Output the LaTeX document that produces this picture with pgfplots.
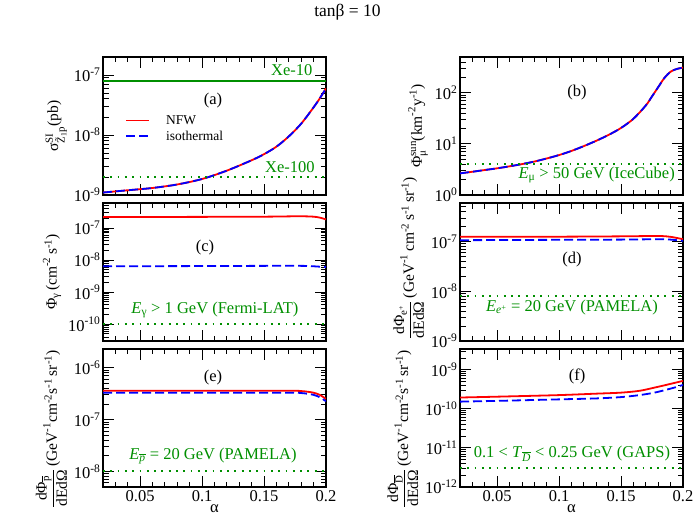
\documentclass[border=0pt]{standalone}
\usepackage{fontspec}
\setmainfont{Liberation Serif}
\usepackage{amsmath}
\usepackage{pgfplots}
\pgfplotsset{compat=1.18}

\definecolor{mygreen}{rgb}{0,0.56,0}
\newcommand{\T}[1]{\text{#1}}
\newcommand{\fs}{\fontsize{16.5}{19}\selectfont}
\newcommand{\fl}{\fontsize{15.5}{18}\selectfont}

\pgfplotsset{
  panel/.style={
    scale only axis, width=223pt, height=138pt,
    log basis y=10,
    xmin=0.02, xmax=0.2,
    xtick={0.05,0.1,0.15,0.2},
    minor xtick={0.03,0.04,0.06,0.07,0.08,0.09,0.11,0.12,0.13,0.14,0.16,0.17,0.18,0.19},
    yticklabel={\pgfmathparse{int(round(\tick))}10\textsuperscript{\pgfmathresult}},
    tick align=inside,
    major tick length=11pt, minor tick length=5.5pt,
    tick style={black, line width=0.9pt},
    axis line style={line width=1.2pt},
    tick label style={font=\fs},
    yticklabel style={xshift=1pt},
    label style={font=\fl},
    anchor=south west,
  },
  toprow/.style={xticklabels={,,,,}},
  bottomrow/.style={xticklabels={0.05,0.1,0.15,0.2}, xlabel={α},
    xlabel style={yshift=4pt, font=\fs}},
}
\tikzset{
  nfw/.style={red, line width=1.8pt, smooth},
  iso/.style={blue, line width=1.8pt, dash pattern=on 9pt off 4pt, smooth},
  lim/.style={mygreen, line width=1.9pt, dash pattern=on 1.8pt off 5.5pt},
  ann/.style={font=\fs, text=mygreen, inner sep=0pt},
}

\begin{document}
\begin{tikzpicture}
\useasboundingbox (0,0) rectangle (695pt,-522pt);
\node at (347.5pt,-12pt) {\fontsize{17.5}{20}\selectfont tanβ = 10};

% (a)
\begin{semilogyaxis}[panel, toprow, at={(103pt,-195pt)},
  ymin=1e-9, ymax=2e-7,
  ylabel={$\T{σ}^{\T{SI}}_{\T{\~{Z}}_{\T{1}}\T{p}}\T{(pb)}$},
  legend style={at={(0.099,0.482)}, anchor=west, draw=none, fill=none,
    font=\fontsize{13.5}{15}\selectfont, row sep=1pt, inner sep=0pt},
  legend cell align=left,
  legend image code/.code={\draw[#1] (0pt,0pt) -- (23pt,0pt);},
]
\addplot[nfw] coordinates {(0.02,1.1e-9)(0.04,1.2e-9)(0.06,1.31e-9)(0.08,1.5e-9)(0.10,1.85e-9)(0.12,2.55e-9)(0.14,3.8e-9)(0.15,4.8e-9)(0.16,6.4e-9)(0.17,9.5e-9)(0.18,1.55e-8)(0.19,2.9e-8)(0.195,4.1e-8)(0.2,6e-8)};
\addlegendentry{\hspace{14pt}NFW}
\addplot[iso] coordinates {(0.02,1.1e-9)(0.04,1.2e-9)(0.06,1.31e-9)(0.08,1.5e-9)(0.10,1.85e-9)(0.12,2.55e-9)(0.14,3.8e-9)(0.15,4.8e-9)(0.16,6.4e-9)(0.17,9.5e-9)(0.18,1.55e-8)(0.19,2.9e-8)(0.195,4.1e-8)(0.2,6e-8)};
\addlegendentry{\hspace{14pt}isothermal}
\addplot[mygreen, line width=1.7pt, forget plot] coordinates {(0.02,8e-8)(0.2,8e-8)};
\addplot[lim, forget plot] coordinates {(0.02,2e-9)(0.2,2e-9)};
\node[font=\fs] at (rel axis cs:0.493,0.688) {(a)};
\node[ann, anchor=east] at (rel axis cs:0.94,0.905) {Xe-10};
\node[ann, anchor=east] at (rel axis cs:0.95,0.205) {Xe-100};
\end{semilogyaxis}

% (b)
\begin{semilogyaxis}[panel, toprow, at={(460pt,-195pt)},
  ymin=1, ymax=500,
  ylabel={$\T{Φ}^{\T{sun}}_{\T{μ}}\T{(km}^{\T{-2}}\T{y}^{\T{-1}}\T{)}$},
]
\addplot[nfw] coordinates {(0.02,2.65)(0.03,2.85)(0.04,3.08)(0.05,3.33)(0.06,3.64)(0.07,4.02)(0.08,4.51)(0.09,5.18)(0.10,6.05)(0.11,7.28)(0.12,9.06)(0.13,11.5)(0.14,15.0)(0.15,20.5)(0.16,31.0)(0.17,56.5)(0.175,85)(0.18,129)(0.185,195)(0.19,258)(0.195,292)(0.2,310)};
\addplot[iso] coordinates {(0.02,2.65)(0.03,2.85)(0.04,3.08)(0.05,3.33)(0.06,3.64)(0.07,4.02)(0.08,4.51)(0.09,5.18)(0.10,6.05)(0.11,7.28)(0.12,9.06)(0.13,11.5)(0.14,15.0)(0.15,20.5)(0.16,31.0)(0.17,56.5)(0.175,85)(0.18,129)(0.185,195)(0.19,258)(0.195,292)(0.2,310)};
\addplot[lim] coordinates {(0.02,4)(0.2,4)};
\node[font=\fs] at (rel axis cs:0.525,0.739) {(b)};
\node[ann, anchor=east] at (rel axis cs:0.964,0.145) {\textit{E}$_{\T{μ}}$ > 50 GeV (IceCube)};
\end{semilogyaxis}

% (c)
\begin{semilogyaxis}[panel, toprow, at={(103pt,-341pt)},
  ymin=3e-11, ymax=6e-7,
  ylabel={$\T{Φ}_{\T{γ}}\,\T{(cm}^{\T{-2}}\,\T{s}^{\T{-1}}\T{)}$},
]
\addplot[nfw] coordinates {(0.02,2.2e-7)(0.05,2.2e-7)(0.1,2.22e-7)(0.15,2.25e-7)(0.17,2.3e-7)(0.18,2.32e-7)(0.19,2.25e-7)(0.195,2.1e-7)(0.2,1.85e-7)};
\addplot[iso] coordinates {(0.02,6.4e-9)(0.1,6.5e-9)(0.15,6.6e-9)(0.18,6.6e-9)(0.19,6.4e-9)(0.2,6.0e-9)};
\addplot[lim] coordinates {(0.02,1e-10)(0.2,1e-10)};
\node[font=\fs] at (rel axis cs:0.457,0.674) {(c)};
\node[ann] at (rel axis cs:0.502,0.225) {\textit{E}$_{\T{γ}}$ > 1 GeV (Fermi-LAT)};
\end{semilogyaxis}

% (d)
\begin{semilogyaxis}[panel, toprow, at={(460pt,-341pt)},
  ymin=1e-9, ymax=6e-7,
  ylabel style={at={(ticklabel cs:0.6)}},
  ylabel={$\dfrac{\T{dΦ}_{\T{e}^{\T{+}}}}{\T{dEdΩ}}\,\T{(GeV}^{\T{-1}}\,\T{cm}^{\T{-2}}\,\T{s}^{\T{-1}}\,\T{sr}^{\T{-1}}\T{)}$},
]
\addplot[nfw] coordinates {(0.02,1.25e-7)(0.1,1.26e-7)(0.15,1.28e-7)(0.18,1.3e-7)(0.19,1.25e-7)(0.2,1.12e-7)};
\addplot[iso] coordinates {(0.02,1.07e-7)(0.1,1.09e-7)(0.15,1.1e-7)(0.18,1.12e-7)(0.19,1.1e-7)(0.2,1.04e-7)};
\addplot[lim] coordinates {(0.02,8.2e-9)(0.2,8.2e-9)};
\node[font=\fs] at (rel axis cs:0.502,0.587) {(d)};
\node[ann] at (rel axis cs:0.502,0.246) {\textit{E}$_{\T{\itshape e}^{\T{+}}}$ = 20 GeV (PAMELA)};
\end{semilogyaxis}

% (e)
\begin{semilogyaxis}[panel, bottomrow, at={(103pt,-487pt)},
  ymin=5e-9, ymax=2.3e-6,
  ylabel style={at={(ticklabel cs:0.42)}},
  ylabel={$\dfrac{\T{dΦ}_{\overline{\T{p}}}}{\T{dEdΩ}}\,\T{(GeV}^{\T{-1}}\T{cm}^{\T{-2}}\T{s}^{\T{-1}}\,\T{sr}^{\T{-1}}\T{)}$},
]
\addplot[nfw] coordinates {(0.02,3.6e-7)(0.1,3.6e-7)(0.17,3.6e-7)(0.18,3.55e-7)(0.185,3.45e-7)(0.19,3.3e-7)(0.195,3.0e-7)(0.2,2.5e-7)};
\addplot[iso] coordinates {(0.02,3.3e-7)(0.1,3.3e-7)(0.17,3.3e-7)(0.18,3.25e-7)(0.185,3.15e-7)(0.19,3.0e-7)(0.195,2.7e-7)(0.2,2.25e-7)};
\addplot[lim] coordinates {(0.02,1e-8)(0.2,1e-8)};
\node[font=\fs] at (rel axis cs:0.493,0.79) {(e)};
\node[ann] at (rel axis cs:0.493,0.225) {\textit{E}$_{\overline{\T{\itshape p}}}$ = 20 GeV (PAMELA)};
\end{semilogyaxis}

% (f)
\begin{semilogyaxis}[panel, bottomrow, at={(460pt,-487pt)},
  ymin=1e-12, ymax=3.4e-9,
  ylabel style={at={(ticklabel cs:0.42)}},
  ylabel={$\dfrac{\T{dΦ}_{\overline{\T{D}}}}{\T{dEdΩ}}\,\T{(GeV}^{\T{-1}}\T{cm}^{\T{-2}}\T{s}^{\T{-1}}\,\T{sr}^{\T{-1}}\T{)}$},
]
\addplot[nfw] coordinates {(0.02,1.95e-10)(0.05,2.05e-10)(0.1,2.25e-10)(0.13,2.45e-10)(0.15,2.6e-10)(0.165,2.9e-10)(0.177,3.5e-10)(0.185,4.0e-10)(0.193,4.6e-10)(0.2,5.2e-10)};
\addplot[iso] coordinates {(0.02,1.53e-10)(0.05,1.6e-10)(0.1,1.75e-10)(0.13,1.85e-10)(0.15,2.0e-10)(0.165,2.25e-10)(0.177,2.6e-10)(0.185,3.0e-10)(0.193,3.5e-10)(0.2,4.1e-10)};
\addplot[lim] coordinates {(0.02,3e-12)(0.2,3e-12)};
\node[font=\fs] at (rel axis cs:0.525,0.804) {(f)};
\node[ann] at (rel axis cs:0.502,0.239) {0.1 < \textit{T}$_{\overline{\T{\itshape D}}}$ < 0.25 GeV (GAPS)};
\end{semilogyaxis}
\end{tikzpicture}
\end{document}
